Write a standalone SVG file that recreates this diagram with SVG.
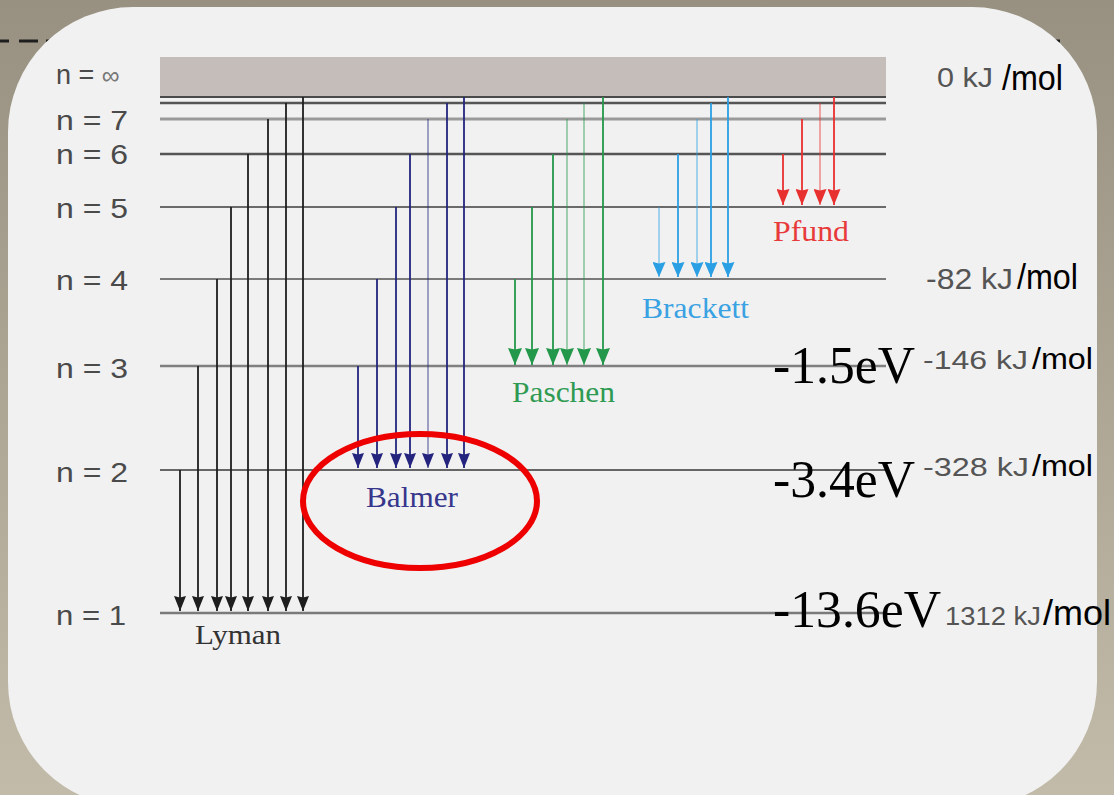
<svg xmlns="http://www.w3.org/2000/svg" width="1114" height="795" viewBox="0 0 1114 795">
<defs>
<linearGradient id="bg" x1="0" y1="0" x2="0" y2="1">
<stop offset="0" stop-color="#989181"/>
<stop offset="1" stop-color="#c2bba9"/>
</linearGradient>
<marker id="ak" viewBox="0 0 15 12" refX="15" refY="6" markerWidth="15" markerHeight="12" orient="auto" markerUnits="userSpaceOnUse"><path d="M0,0 L15,6 L0,12 L1.5,6 Z" fill="#1e1e1e"/></marker>
<marker id="ab" viewBox="0 0 15 12" refX="15" refY="6" markerWidth="15" markerHeight="12" orient="auto" markerUnits="userSpaceOnUse"><path d="M0,0 L15,6 L0,12 L1.5,6 Z" fill="#24247e"/></marker>
<marker id="ag" viewBox="0 0 17 14" refX="17" refY="7" markerWidth="17" markerHeight="14" orient="auto" markerUnits="userSpaceOnUse"><path d="M0,0 L17,7 L0,14 L1.5,7 Z" fill="#23974a"/></marker>
<marker id="ac" viewBox="0 0 15 13" refX="15" refY="6.5" markerWidth="15" markerHeight="13" orient="auto" markerUnits="userSpaceOnUse"><path d="M0,0 L15,6.5 L0,13 L1.5,6.5 Z" fill="#2b9fe4"/></marker>
<marker id="ar" viewBox="0 0 16 13" refX="16" refY="6.5" markerWidth="16" markerHeight="13" orient="auto" markerUnits="userSpaceOnUse"><path d="M0,0 L16,6.5 L0,13 L1.5,6.5 Z" fill="#e8302f"/></marker>
</defs>
<style>
.lvl{stroke:#5e5e5e;stroke-width:2;fill:none}
.nl{font-family:"Liberation Sans",Arial,sans-serif;font-size:27px;fill:#4a4a4a}
.kj{font-family:"Liberation Sans",Arial,sans-serif;fill:#555555}
.mol{font-family:"Liberation Sans",Arial,sans-serif;fill:#000000}
.ev{font-family:"Liberation Serif","Times New Roman",serif;font-size:52px;fill:#000000}
.ser{font-family:"Liberation Serif","Times New Roman",serif}
.ly line{stroke:#1e1e1e;stroke-width:1.8;marker-end:url(#ak)}
.ba line{stroke:#24247e;stroke-width:1.8;marker-end:url(#ab)}
.pa line{stroke:#23974a;stroke-width:1.8;marker-end:url(#ag)}
.br line{stroke:#2b9fe4;stroke-width:1.8;marker-end:url(#ac)}
.pf line{stroke:#e8302f;stroke-width:1.8;marker-end:url(#ar)}
.lt{stroke-opacity:0.45}
</style>
<rect x="0" y="0" width="1114" height="795" fill="url(#bg)"/>
<g id="slide-line" stroke="#1e1e1e" stroke-width="3">
<line x1="0" y1="41" x2="9" y2="41"/>
<line x1="19" y1="41" x2="38" y2="41"/>
<line x1="46" y1="41" x2="80" y2="41"/>
<line x1="1030" y1="41" x2="1060" y2="41"/>
</g>
<rect id="panel" x="8" y="7" width="1089" height="800" rx="125" ry="125" fill="#f1f1f1"/>
<g id="levels">
<rect x="160" y="57" width="726" height="39" fill="#c5bdba"/>
<line class="lvl" x1="160" y1="97" x2="886" y2="97" style="stroke:#4a4a4a"/>
<line class="lvl" x1="160" y1="103" x2="886" y2="103" style="stroke:#555;stroke-width:2.5"/>
<line class="lvl" x1="160" y1="119" x2="886" y2="119" style="stroke:#9a9a9a;stroke-width:3"/>
<line class="lvl" x1="160" y1="154" x2="886" y2="154" style="stroke:#555;stroke-width:2.5"/>
<line class="lvl" x1="160" y1="207" x2="886" y2="207" style="stroke:#6a6a6a"/>
<line class="lvl" x1="160" y1="279" x2="886" y2="279" style="stroke:#7a7a7a"/>
<line class="lvl" x1="160" y1="366" x2="886" y2="366" style="stroke:#808080;stroke-width:2.5"/>
<line class="lvl" x1="160" y1="470" x2="886" y2="470" style="stroke:#666"/>
<line class="lvl" x1="160" y1="613" x2="886" y2="613" style="stroke:#7a7a7a;stroke-width:2.5"/>
</g>
<g id="level-labels">
<text class="nl" x="56" y="84">n = <tspan style="font-size:25px;fill:#777">∞</tspan></text>
<text class="nl" x="56" y="130" textLength="72" lengthAdjust="spacingAndGlyphs">n = 7</text>
<text class="nl" x="56" y="164" textLength="72" lengthAdjust="spacingAndGlyphs">n = 6</text>
<text class="nl" x="56" y="218" textLength="72" lengthAdjust="spacingAndGlyphs">n = 5</text>
<text class="nl" x="56" y="290" textLength="72" lengthAdjust="spacingAndGlyphs">n = 4</text>
<text class="nl" x="56" y="378" textLength="72" lengthAdjust="spacingAndGlyphs">n = 3</text>
<text class="nl" x="56" y="482" textLength="72" lengthAdjust="spacingAndGlyphs">n = 2</text>
<text class="nl" x="56" y="625" textLength="70" lengthAdjust="spacingAndGlyphs">n = 1</text>
</g>
<g id="connectors">
<g id="lyman-arrows" class="ly">
<line x1="180" y1="470" x2="180" y2="611"/>
<line x1="198" y1="366" x2="198" y2="611"/>
<line x1="217" y1="279" x2="217" y2="611"/>
<line x1="231" y1="207" x2="231" y2="611"/>
<line x1="248" y1="154" x2="248" y2="611"/>
<line x1="268" y1="119" x2="268" y2="611"/>
<line x1="286" y1="103" x2="286" y2="611"/>
<line x1="303" y1="97" x2="303" y2="611"/>
</g>
<g id="balmer-arrows" class="ba">
<line x1="358" y1="366" x2="358" y2="468"/>
<line x1="377" y1="279" x2="377" y2="468"/>
<line x1="396" y1="207" x2="396" y2="468"/>
<line x1="410" y1="154" x2="410" y2="468"/>
<line class="lt" x1="428" y1="119" x2="428" y2="468"/>
<line x1="447" y1="103" x2="447" y2="468"/>
<line x1="464" y1="97" x2="464" y2="468"/>
</g>
<g id="paschen-arrows" class="pa">
<line x1="515" y1="279" x2="515" y2="365"/>
<line x1="532" y1="207" x2="532" y2="365"/>
<line x1="553" y1="154" x2="553" y2="365"/>
<line class="lt" x1="567" y1="119" x2="567" y2="365"/>
<line class="lt" x1="584" y1="103" x2="584" y2="365"/>
<line x1="603" y1="97" x2="603" y2="365"/>
</g>
<g id="brackett-arrows" class="br">
<line class="lt" x1="659" y1="207" x2="659" y2="277"/>
<line x1="678" y1="154" x2="678" y2="277"/>
<line class="lt" x1="697" y1="119" x2="697" y2="277"/>
<line x1="711" y1="103" x2="711" y2="277"/>
<line x1="728" y1="97" x2="728" y2="277"/>
</g>
<g id="pfund-arrows" class="pf">
<line x1="783" y1="154" x2="783" y2="205"/>
<line x1="802" y1="119" x2="802" y2="205"/>
<line class="lt" x1="820" y1="103" x2="820" y2="205"/>
<line x1="834" y1="97" x2="834" y2="205"/>
</g>
</g>
<g id="series-labels">
<text id="lyman" class="ser" x="195" y="644" font-size="27" fill="#333333" textLength="86" lengthAdjust="spacingAndGlyphs">Lyman</text>
<text id="balmer" class="ser" x="366" y="507" font-size="30" fill="#36368c" textLength="92" lengthAdjust="spacingAndGlyphs">Balmer</text>
<text id="paschen" class="ser" x="512" y="402" font-size="29" fill="#2e9a52" textLength="103" lengthAdjust="spacingAndGlyphs">Paschen</text>
<text id="brackett" class="ser" x="642" y="318" font-size="29" fill="#3aa2e2" textLength="107" lengthAdjust="spacingAndGlyphs">Brackett</text>
<text id="pfund" class="ser" x="773" y="241" font-size="29" fill="#e83a3a" textLength="76" lengthAdjust="spacingAndGlyphs">Pfund</text>
</g>
<ellipse id="highlight" cx="420" cy="501" rx="117" ry="67" fill="none" stroke="#ee0000" stroke-width="6"/>
<g id="energy-ev">
<text class="ev" x="773" y="383" textLength="142" lengthAdjust="spacingAndGlyphs">-1.5eV</text>
<text class="ev" x="773" y="497" textLength="142" lengthAdjust="spacingAndGlyphs">-3.4eV</text>
<text class="ev" x="773" y="627" textLength="168" lengthAdjust="spacingAndGlyphs">-13.6eV</text>
</g>
<g id="energy-kj">
<text class="kj" x="937" y="87" font-size="28" textLength="56" lengthAdjust="spacingAndGlyphs">0 kJ</text>
<text class="mol" x="1002" y="90" font-size="35" textLength="61" lengthAdjust="spacingAndGlyphs">/mol</text>
<text class="kj" x="926" y="289" font-size="29" textLength="87" lengthAdjust="spacingAndGlyphs">-82 kJ</text>
<text class="mol" x="1017" y="289" font-size="35" textLength="61" lengthAdjust="spacingAndGlyphs">/mol</text>
<text class="kj" x="923" y="369" font-size="25" textLength="105" lengthAdjust="spacingAndGlyphs">-146 kJ</text>
<text class="mol" x="1032" y="369" font-size="30" textLength="61" lengthAdjust="spacingAndGlyphs">/mol</text>
<text class="kj" x="923" y="476" font-size="25" textLength="106" lengthAdjust="spacingAndGlyphs">-328 kJ</text>
<text class="mol" x="1032" y="476" font-size="30" textLength="61" lengthAdjust="spacingAndGlyphs">/mol</text>
<text class="kj" x="945" y="625" font-size="26" textLength="96" lengthAdjust="spacingAndGlyphs">1312 kJ</text>
<text class="mol" x="1043" y="625" font-size="35" textLength="68" lengthAdjust="spacingAndGlyphs">/mol</text>
</g>
</svg>
